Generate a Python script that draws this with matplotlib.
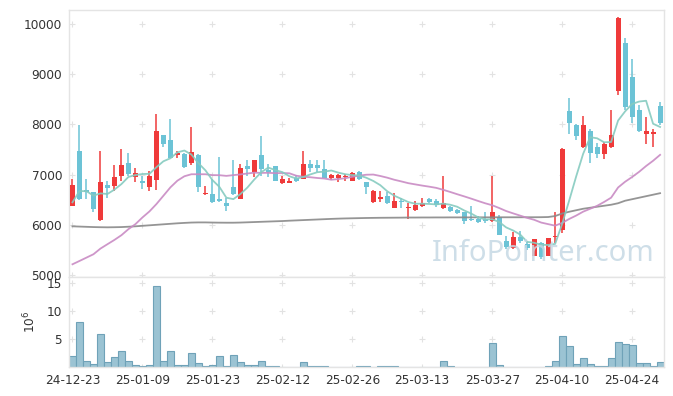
import numpy as np
import matplotlib.pyplot as plt

# daily OHLC (KRW), 24-12-23 .. 25-04-30
opens = [6380, 7480, 6700, 6650, 6090, 6790, 6770, 6980, 7240, 6960,
         6880, 6760, 6890, 7780, 7680, 7400, 7420, 7240, 7400, 6610,
         6610, 6510, 6440, 6760, 6520, 7170, 7050, 7390, 7090, 7170,
         6840, 6840, 6940, 6920, 7210, 7190, 7120, 6930, 6940, 6950,
         6880, 7060, 6850, 6450, 6520, 6570, 6340, 6470, 6330, 6290,
         6380, 6510, 6470, 6330, 6350, 6290, 6250, 6110, 6110, 6120,
         6070, 6160, 5670, 5530, 5750, 5610, 5380, 5630, 5380, 5750,
         5900, 8260, 7990, 7550, 7870, 7550, 7410, 7550, 8670, 9630,
         8940, 8280, 7800, 7810, 8370]
closes = [6800, 6520, 6650, 6310, 6850, 6740, 6960, 7200, 7020, 7040,
          6840, 6980, 7860, 7610, 7340, 7430, 7160, 7460, 6750, 6630,
          6460, 6480, 6380, 6610, 7130, 7110, 7290, 7110, 7060, 6880,
          6910, 6880, 6880, 7210, 7140, 7130, 6940, 6990, 7000, 6980,
          7040, 6910, 6760, 6680, 6560, 6430, 6470, 6450, 6360, 6390,
          6430, 6450, 6400, 6440, 6280, 6230, 6080, 6090, 6060, 6070,
          6260, 5800, 5550, 5750, 5670, 5530, 5710, 5350, 5730, 5780,
          7520, 8020, 7760, 7990, 7440, 7410, 7620, 7790, 10130, 8350,
          8150, 7860, 7870, 7840, 8030]
highs = [6920, 7980, 6920, 6660, 7480, 6880, 7200, 7520, 7440, 7140,
         6980, 7070, 8200, 7790, 8100, 7470, 7430, 7950, 7410, 6770,
         6920, 7360, 6540, 7290, 7210, 7290, 7300, 7770, 7210, 7180,
         6970, 6930, 7000, 7470, 7290, 7290, 7300, 7020, 7010, 7020,
         7050, 7070, 6860, 6690, 6680, 6660, 6640, 6530, 6430, 6470,
         6540, 6540, 6510, 6970, 6370, 6320, 6260, 6370, 6180, 6250,
         6980, 6200, 5780, 5850, 5880, 5660, 5720, 5660, 5740, 6260,
         7530, 8520, 8010, 8170, 7900, 7630, 7660, 8290, 10140, 9730,
         9300, 8380, 8150, 7900, 8440]
lows = [6370, 6500, 6520, 6260, 6070, 6540, 6670, 6870, 6970, 6850,
        6720, 6680, 6700, 7560, 7330, 7340, 7140, 7190, 6650, 6600,
        6440, 6450, 6280, 6600, 6510, 6970, 6960, 6970, 6960, 6870,
        6810, 6830, 6850, 6910, 7060, 7060, 6930, 6900, 6850, 6870,
        6870, 6900, 6610, 6440, 6460, 6410, 6330, 6330, 6110, 6280,
        6350, 6430, 6360, 6320, 6250, 6210, 6020, 6070, 6040, 6040,
        6050, 5790, 5510, 5520, 5640, 5500, 5370, 5310, 5370, 5640,
        5830, 7810, 7680, 7530, 7230, 7340, 7310, 7530, 8590, 8290,
        8020, 7840, 7620, 7550, 7990]
# closes of the 19 sessions before the window (for the moving averages)
pre_closes = [5200, 5310, 4970, 4590, 5000, 5240, 5320, 4620, 5040, 4180,
              4580, 4920, 4290, 4000, 4770, 5400, 6660, 6750, 6630]
# 120-day average as shown
ma120 = [5970, 5965, 5960, 5955, 5952, 5950, 5952, 5955, 5962, 5970,
         5980, 5990, 6000, 6010, 6020, 6030, 6038, 6045, 6048, 6048,
         6045, 6043, 6042, 6042, 6045, 6050, 6055, 6060, 6065, 6070,
         6075, 6082, 6088, 6094, 6100, 6106, 6112, 6118, 6123, 6127,
         6130, 6133, 6136, 6138, 6140, 6141, 6142, 6143, 6145, 6145,
         6146, 6146, 6147, 6147, 6148, 6148, 6148, 6148, 6149, 6149,
         6149, 6150, 6150, 6150, 6150, 6151, 6151, 6152, 6155, 6175,
         6225, 6260, 6290, 6320, 6340, 6360, 6380, 6400, 6430, 6480,
         6510, 6540, 6570, 6600, 6630]
# volume, millions of shares
volume = [2.0, 8.0, 1.07, 0.54, 5.9, 0.9, 1.8, 2.86, 1.07, 0.36,
          0.18, 0.36, 14.46, 1.07, 2.86, 0.36, 0.36, 2.5, 0.71, 0.18,
          0.36, 1.96, 0.18, 2.14, 0.9, 0.36, 0.36, 1.07, 0.18, 0.18,
          0.04, 0.04, 0.04, 0.9, 0.18, 0.18, 0.18, 0.04, 0.04, 0.04,
          0.04, 0.18, 0.18, 0.04, 0.18, 0.18, 0.18, 0.04, 0.04, 0.04,
          0.04, 0.04, 0.04, 1.07, 0.18, 0.04, 0.04, 0.04, 0.04, 0.04,
          4.29, 0.36, 0.04, 0.04, 0.04, 0.04, 0.04, 0.04, 0.18, 1.07,
          5.54, 3.75, 0.54, 1.6, 0.54, 0.18, 0.18, 1.6, 4.46, 4.1,
          3.93, 0.71, 0.71, 0.18, 0.9]
tick_labels = ['24-12-23', '25-01-09', '25-01-23', '25-02-12', '25-02-26',
               '25-03-13', '25-03-27', '25-04-10', '25-04-24']

o = np.array(opens)
c = np.array(closes)
h = np.array(highs)
l = np.array(lows)
x = np.arange(len(c))
allc = np.concatenate([pre_closes, c])
n_pre = len(pre_closes)
ma5 = np.array([allc[i + n_pre - 4:i + n_pre + 1].mean() for i in x])
ma20 = np.array([allc[i + n_pre - 19:i + n_pre + 1].mean() for i in x])

up = '#ef3a3a'
down = '#6cc3d6'
cols = [up if cc >= oo else down for oo, cc in zip(o, c)]

plt.rcParams['font.family'] = 'DejaVu Sans'
fig = plt.figure(figsize=(6.73, 3.96), dpi=100)
ax = fig.add_axes([0.1025, 0.3005, 0.8835, 0.6742])
axv = fig.add_axes([0.1025, 0.0732, 0.8835, 0.2273])

xt = np.arange(0, 85, 10)
yt = np.arange(5000, 10001, 1000)
gx, gy = np.meshgrid(xt, yt)
ax.plot(gx.ravel(), gy.ravel(), '+', ms=4, mew=0.8, color='#e2e2e2', zorder=0)

ax.vlines(x, l, h, colors=cols, lw=1.1, zorder=2)
body = np.maximum(np.abs(c - o), 15)
ax.bar(x, body, bottom=np.minimum(o, c), width=0.72, color=cols, zorder=3)

ax.plot(x, ma120, color='#8a8a8a', lw=1.3, alpha=0.9, zorder=4)
ax.plot(x, ma20, color='#c98bc4', lw=1.3, alpha=0.9, zorder=4)
ax.plot(x, ma5, color='#86cbc0', lw=1.3, alpha=0.9, zorder=4)

ax.text(0.985, 0.035, 'InfoPointer.com', transform=ax.transAxes, ha='right',
        va='bottom', fontsize=21, family='Noto Sans', color='#c6d9e4',
        alpha=0.85, zorder=5)

ax.set_xlim(-0.5, 84.5)
ax.set_ylim(4960, 10280)
ax.set_yticks(yt)
ax.set_xticks(xt)
ax.tick_params(axis='x', labelbottom=False, length=0)
ax.tick_params(axis='y', length=0, labelsize=8.7, labelcolor='#333333', pad=5)

vx, vy = np.meshgrid(xt, [0, 5, 10, 15])
axv.plot(vx.ravel(), vy.ravel(), '+', ms=4, mew=0.8, color='#e2e2e2', zorder=0)
axv.bar(x, volume, width=1.0, color='#9bc3d3', edgecolor='#6fa2b8', lw=0.8, zorder=2)
axv.set_xlim(-0.5, 84.5)
axv.set_ylim(0, 16.1)
axv.set_yticks([5, 10, 15])
axv.set_xticks(xt)
axv.set_xticklabels(tick_labels)
axv.tick_params(length=0, labelsize=8.7, labelcolor='#333333', pad=5)
axv.set_ylabel(r'$10^6$', fontsize=8.7, color='#333333', labelpad=6)

for a in (ax, axv):
    for s in a.spines.values():
        s.set_color('#e4e4e4')
        s.set_linewidth(1.0)

fig.savefig('out.png', dpi=100)
